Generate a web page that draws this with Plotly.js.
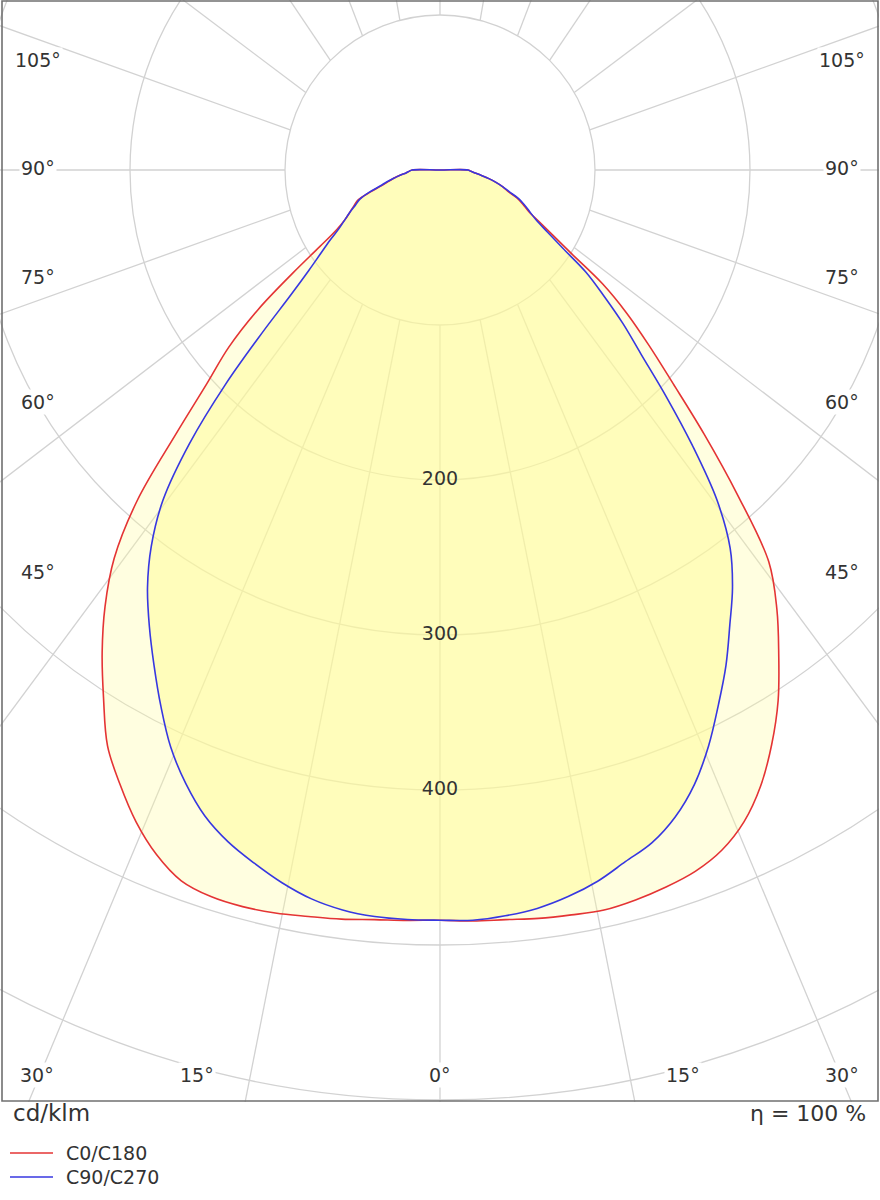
<!DOCTYPE html>
<html>
<head>
<meta charset="utf-8">
<script src="https://cdn.plot.ly/plotly-3.0.1.min.js"></script>
<style>
html,body{margin:0;padding:0;background:#fff;overflow:hidden;}
#wrap{position:absolute;left:0;top:0;width:880px;height:1200px;overflow:hidden;background:#fff;}
#plot{position:absolute;left:-660px;top:-930px;width:2200px;height:2200px;}
</style>
</head>
<body>
<div id="wrap"><div id="plot"></div></div>
<script>
// gamma angles (degrees from nadir), read every 2.5 degrees
const gamma = [0,2.5,5,7.5,10,12.5,15,17.5,20,22.5,25,27.5,30,32.5,35,37.5,40,42.5,45,47.5,50,52.5,55,57.5,60,62.5,65,67.5,70,72.5,75,77.5,80,82.5,85,87.5,90];

// intensities in cd/klm
const c0   = [484,485,485.5,487,488,489,487.5,485,481.5,475,464,448,428,406,381,357,330,284,241,204,176,152,128,101,84,72,63,58,53,46,42,37,32,27,23,20,18];
const c180 = [484,484.6,485.5,487.5,489,491,492,491.5,488,478,464,447,429,404,380,355,327,289,241,204,178,148,116,92,77,69,64,60,56,47,39,34,30,26,22,20,18];
const c90  = [484,484.5,483,480.5,476,470,462,455,444,429,410,389,369,348,329,307.5,278,241,206,176,154,133,115,94,80,70,64,59,54,47,42,37,32,27,23,20,18];
const c270 = [484,484,483.5,481.5,477.5,471,463,454.5,443.5,428.5,411,390,369,349,329,306,278,239,196,156,126,107,94,84,75,69,64,59,55,48,40,35,30,26,22,20,18];

// radial rings and their labels
const ringValues = [100,200,300,400,500,600];
const ringLabelValues = [200,300,400];

// angle lines as drawn in the reference: start angle on the 100 ring, end angle/radius at the frame
const gridStart = [0,15,30,45,60,75,90,105,120,135,150,165,180];
const gridEnd   = [0,11.8,23.8,38.3,54.6,71.8,90,108.2,123.6,138.8,152.1,165.8,180];
const gridEndR  = [610,625,670,470,360,310,292,308,205,152,130,118,114];

// angle labels
const sideLabels = ['105°','90°','75°','60°','45°'];
const bottomLabels = ['30°','15°','0°','15°','30°'];
const seriesNames = ['C0/C180','C90/C270'];
const unitText = 'cd/klm';
const etaText = 'η = 100 %';

// ---- geometry of the clipped page ----
const OFF_L = -660, OFF_T = -930, MARG = 15, PLOT = 2170;
const px = X => (X - OFF_L - MARG) / PLOT;
const py = Y => 1 - (Y - OFF_T - MARG) / PLOT;

function loop(right, left) {
  const r = [], t = [];
  for (let i = 0; i < gamma.length; i++) { r.push(right[i]); t.push(gamma[i]); }
  r.push(0); t.push(180);
  for (let i = gamma.length - 1; i >= 0; i--) { r.push(left[i]); t.push(-gamma[i]); }
  return {r, t};
}

const red = loop(c0, c180);
const blue = loop(c90, c270);

// grid line trace
const gr = [], gt = [];
for (let i = 0; i < gridStart.length; i++) {
  const sides = (gridStart[i] === 0 || gridStart[i] === 180) ? [1] : [1, -1];
  sides.forEach(s => {
    gr.push(100, gridEndR[i], null);
    gt.push(s * gridStart[i], s * gridEnd[i], null);
  });
}

const FONT = 'DejaVu Sans, Verdana, sans-serif';
const gridColor = '#d2d2d2';
const SPL = {shape:'spline', smoothing:1};

const traces = [
  {type:'scatterpolar', r:gr, theta:gt, mode:'lines', connectgaps:false,
   line:{color:gridColor, width:1.3}, hoverinfo:'skip', showlegend:false},
  {type:'scatterpolar', r:red.r, theta:red.t, mode:'lines', fill:'toself',
   fillcolor:'rgba(255,252,160,0.32)', line:Object.assign({width:0, color:'rgba(0,0,0,0)'}, SPL), hoverinfo:'skip', showlegend:false},
  {type:'scatterpolar', r:blue.r, theta:blue.t, mode:'lines', fill:'toself',
   fillcolor:'rgba(255,252,150,0.5)', line:Object.assign({width:0, color:'rgba(0,0,0,0)'}, SPL), hoverinfo:'skip', showlegend:false},
  {type:'scatterpolar', name:seriesNames[0], r:red.r, theta:red.t, mode:'lines',
   line:Object.assign({color:'rgb(228,52,52)', width:1.6}, SPL), showlegend:false},
  {type:'scatterpolar', name:seriesNames[1], r:blue.r, theta:blue.t, mode:'lines',
   line:Object.assign({color:'rgb(55,55,225)', width:1.6}, SPL), showlegend:false},
  {type:'scatterpolar', r:ringLabelValues, theta:ringLabelValues.map(() => 0), mode:'text',
   text:ringLabelValues.map(String), textposition:'middle center',
   textfont:{family:FONT, size:19, color:'#333'}, hoverinfo:'skip', showlegend:false}
];

const annotations = [];
const sideY = [60,168,277,402,572];
sideLabels.forEach((lab, i) => {
  [38, 842].forEach(X => annotations.push({
    text:lab, x:px(X), y:py(sideY[i]), xref:'paper', yref:'paper',
    xanchor:'center', yanchor:'middle', showarrow:false, bgcolor:'#ffffff', borderpad:1,
    font:{family:FONT, size:19, color:'#333'}
  }));
});
const bottomX = [37,197,440,683,842];
bottomLabels.forEach((lab, i) => annotations.push({
  text:lab, x:px(bottomX[i]), y:py(1075), xref:'paper', yref:'paper',
  xanchor:'center', yanchor:'middle', showarrow:false, bgcolor:'#ffffff', borderpad:1,
  font:{family:FONT, size:19, color:'#333'}
}));
annotations.push({text:unitText, x:px(11), y:py(1113), xref:'paper', yref:'paper',
  xanchor:'left', yanchor:'middle', showarrow:false, font:{family:FONT, size:23, color:'#333'}});
annotations.push({text:etaText, x:px(868), y:py(1113), xref:'paper', yref:'paper',
  xanchor:'right', yanchor:'middle', showarrow:false, font:{family:FONT, size:22, color:'#333'}});
const legY = [1153,1177];
const legColors = ['rgb(228,52,52)','rgb(55,55,225)'];
seriesNames.forEach((n, i) => annotations.push({text:n, x:px(64), y:py(legY[i]), xref:'paper', yref:'paper',
  xanchor:'left', yanchor:'middle', showarrow:false, font:{family:FONT, size:19, color:'#333'}}));

const shapes = [
  {type:'rect', xref:'paper', yref:'paper', x0:px(-5), x1:px(885), y0:py(1102), y1:py(1205),
   fillcolor:'#ffffff', line:{width:0}, layer:'above'},
  {type:'rect', xref:'paper', yref:'paper', x0:px(879), x1:px(885), y0:py(-5), y1:py(1205),
   fillcolor:'#ffffff', line:{width:0}, layer:'above'},
  {type:'rect', xref:'paper', yref:'paper', x0:px(2), x1:px(878), y0:py(1), y1:py(1101),
   fillcolor:'rgba(0,0,0,0)', line:{color:'#707070', width:1.6}, layer:'above'}
];
legColors.forEach((c, i) => shapes.push({type:'line', xref:'paper', yref:'paper',
  x0:px(10), x1:px(53), y0:py(legY[i]), y1:py(legY[i]), line:{color:c, width:1.6}, layer:'above'}));

const layout = {
  width:2200, height:2200,
  margin:{l:MARG, r:MARG, t:MARG, b:MARG},
  paper_bgcolor:'#ffffff',
  showlegend:false,
  polar:{
    domain:{x:[0,1], y:[0,1]},
    bgcolor:'#ffffff',
    radialaxis:{range:[0,700], tickvals:ringValues, showticklabels:false, ticks:'',
      showline:false, gridcolor:gridColor, gridwidth:1.3},
    angularaxis:{rotation:-90, direction:'counterclockwise', showgrid:false,
      showticklabels:false, ticks:'', showline:false}
  },
  annotations, shapes
};

Plotly.newPlot('plot', traces, layout, {displayModeBar:false, staticPlot:true});
</script>
</body>
</html>
